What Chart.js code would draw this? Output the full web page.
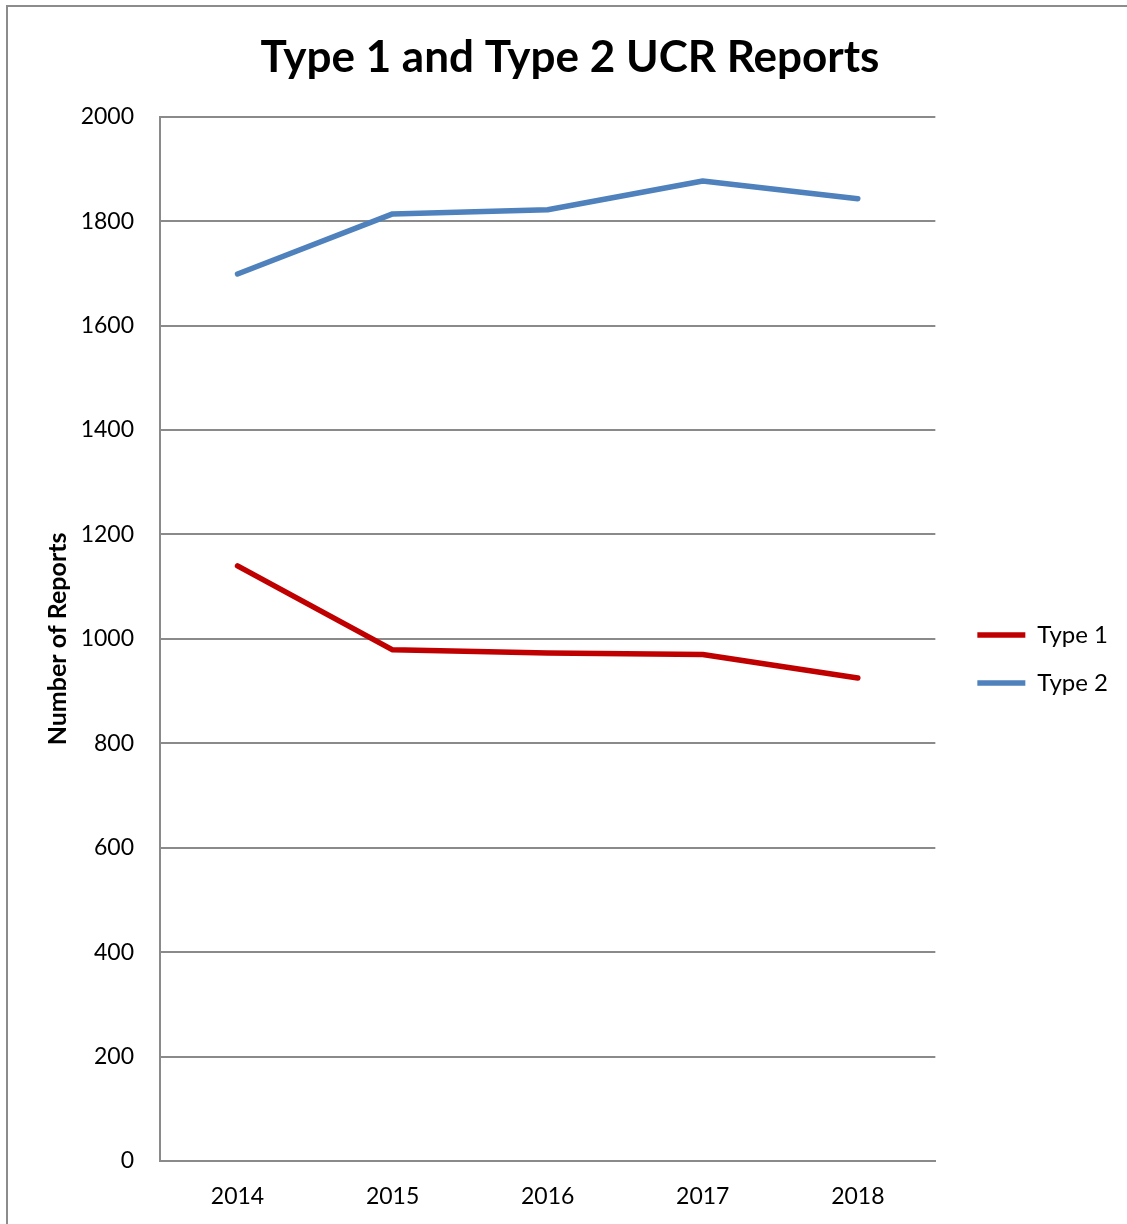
<!DOCTYPE html>
<html>
<head>
<meta charset="utf-8">
<title>Type 1 and Type 2 UCR Reports</title>
<script src="https://cdn.jsdelivr.net/npm/chart.js@4.4.1/dist/chart.umd.min.js"></script>
<style>
  html, body { margin: 0; padding: 0; background: #fff; }
  #wrap { position: relative; width: 1127px; height: 1224px; overflow: hidden; }
  #chart { position: absolute; left: 0; top: 0; }
  #frame {
    position: absolute; left: 6px; top: 5px; width: 1300px; height: 1400px;
    border: 2px solid #8c8c8c; box-sizing: border-box; pointer-events: none;
  }
</style>
</head>
<body>
<div id="wrap">
  <canvas id="chart" width="1127" height="1224"></canvas>
  <div id="frame"></div>
</div>
<script>
/*globals Chart*/
(function () {
  'use strict';

  // values
  var years = ['2014', '2015', '2016', '2017', '2018'];
  var type1 = [1140, 979, 973, 970, 925];
  var type2 = [1699, 1814, 1822, 1877, 1843];
  var yMin = 0, yMax = 2000, yStep = 200;

  var gridColor = '#8a8a8a';

  Chart.defaults.font.family = 'Lato, "Open Sans", sans-serif';
  Chart.defaults.color = '#000';

  new Chart(document.getElementById('chart').getContext('2d'), {
    type: 'line',
    data: {
      labels: years,
      datasets: [{
        label: 'Type 1',
        data: type1,
        borderColor: '#c00000',
        backgroundColor: '#c00000',
        borderWidth: 5.5
      }, {
        label: 'Type 2',
        data: type2,
        borderColor: '#4f81bd',
        backgroundColor: '#4f81bd',
        borderWidth: 5.5
      }]
    },
    options: {
      responsive: false,
      animation: false,
      devicePixelRatio: 1,
      layout: { padding: { left: 22, right: 9, top: 0, bottom: 0 } },
      elements: {
        point: { radius: 0, hoverRadius: 0 },
        line: { tension: 0, borderCapStyle: 'round', borderJoinStyle: 'round', fill: false }
      },
      plugins: {
        tooltip: { enabled: false },
        title: {
          display: true,
          text: 'Type 1 and Type 2 UCR Reports',
          font: { size: 44, weight: 'bold' },
          padding: { top: 31, bottom: 33 }
        },
        legend: {
          position: 'right',
          fullSize: false,
          title: { display: true, text: '', font: { size: 10 }, padding: { top: 0, bottom: 28 } },
          labels: {
            usePointStyle: true,
            pointStyle: 'line',
            pointStyleWidth: 48,
            font: { size: 24 },
            padding: 24
          }
        }
      },
      scales: {
        x: {
          offset: true,
          grid: { display: false, drawTicks: false },
          border: { display: true, color: gridColor, width: 2 },
          ticks: { font: { size: 23 }, padding: 22 },
          afterFit: function (scale) { scale.height = 63; }
        },
        y: {
          min: yMin,
          max: yMax,
          grid: { color: gridColor, lineWidth: 2, drawTicks: false },
          border: { display: true, color: gridColor, width: 2 },
          ticks: {
            stepSize: yStep,
            font: { size: 23 },
            padding: 26,
            callback: function (value) { return String(value); }
          },
          title: {
            display: true,
            text: 'Number of Reports',
            font: { size: 25, weight: 'bold' },
            padding: { top: 21, bottom: 0 }
          },
          afterFit: function (scale) { scale.width = 138; }
        },
        // empty spacer between the plot and the legend
        gap: {
          type: 'linear',
          position: 'right',
          grid: { display: false, drawTicks: false },
          border: { display: false },
          ticks: { display: false },
          afterFit: function (scale) { scale.width = 18; }
        }
      }
    }
  });
}());
</script>
</body>
</html>
